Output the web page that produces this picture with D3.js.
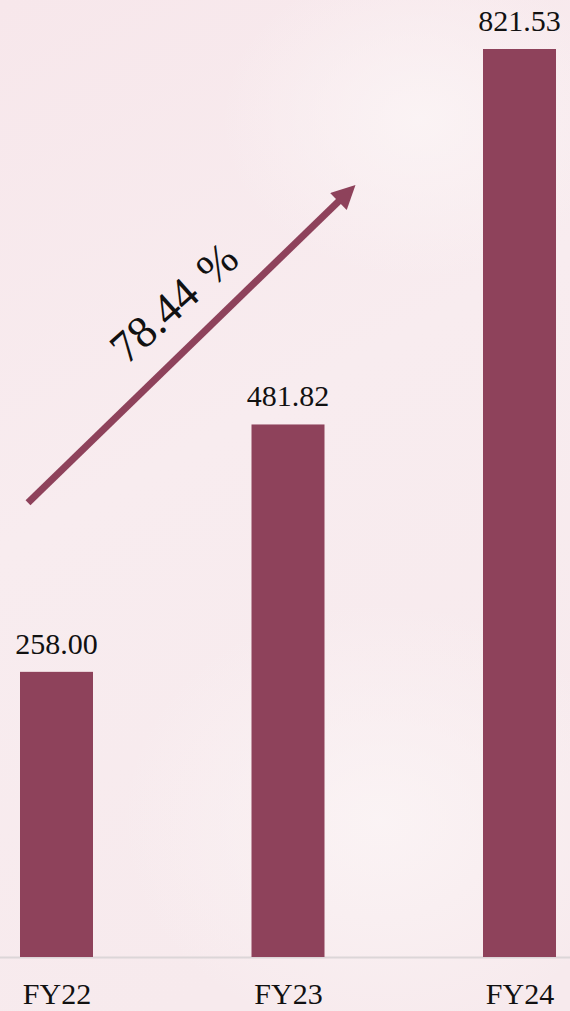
<!DOCTYPE html>
<meta charset="utf-8">
<script src="https://d3js.org/d3.v7.min.js"></script>
<style>
  body { margin: 0; }
  svg { display: block; }
  svg text { font-family: "Liberation Serif", "Times New Roman", serif; }
</style>
<div id="chart"></div>
<script>

    // chart values
    var years = ["FY22", "FY23", "FY24"];
    var values = [258.00, 481.82, 821.53];
    var growth = [78.44];

    var width = 570, height = 1011;
    var serif = '"Liberation Serif", "Times New Roman", serif';

    var svg = d3.select("#chart")
        .append("svg")
        .attr("width", width)
        .attr("height", height);

    // soft pink background
    var defs = svg.append("defs");
    var bg = defs.append("linearGradient").attr("id", "bg")
        .attr("x1", 0).attr("y1", 0).attr("x2", 0.3).attr("y2", 1);
    bg.append("stop").attr("offset", "0%").attr("stop-color", "#f7e7eb");
    bg.append("stop").attr("offset", "50%").attr("stop-color", "#f8ecef");
    bg.append("stop").attr("offset", "100%").attr("stop-color", "#f7eaed");
    var glow = defs.append("radialGradient").attr("id", "glow");
    glow.append("stop").attr("offset", "0%").attr("stop-color", "#fbf4f5").attr("stop-opacity", 0.9);
    glow.append("stop").attr("offset", "100%").attr("stop-color", "#fbf4f5").attr("stop-opacity", 0);

    svg.append("rect").attr("width", width).attr("height", height).attr("fill", "url(#bg)");
    svg.append("ellipse").attr("cx", 380).attr("cy", 820).attr("rx", 260).attr("ry", 220).attr("fill", "url(#glow)");
    svg.append("ellipse").attr("cx", 420).attr("cy", 120).attr("rx", 200).attr("ry", 160).attr("fill", "url(#glow)");

    // scales
    var x = d3.scalePoint()
        .domain(years)
        .range([56.5, 519.5]);
    var barWidth = 73;

    var y = d3.scaleLinear()
        .domain([0, 821.53])
        .range([957, 49]);

    // baseline
    svg.append("g")
        .attr("transform", "translate(0," + y(0) + ")")
        .call(d3.axisBottom(x).tickSize(0).tickPadding(26))
        .call(function (g) {
            g.select(".domain").attr("d", "M0,0.5H" + width).attr("stroke", "#dcd6d8").attr("stroke-width", 2);
            g.selectAll("text")
                .style("font-family", serif)
                .style("font-size", "30px")
                .attr("fill", "#111");
        });

    // bars
    svg.selectAll(".bar")
        .data(values)
        .enter()
        .append("rect")
        .attr("class", "bar")
        .attr("x", function (d, i) { return x(years[i]) - barWidth / 2; })
        .attr("y", function (d) { return y(d); })
        .attr("width", barWidth)
        .attr("height", function (d) { return y(0) - y(d); })
        .attr("fill", "#8e425b");

    // value labels
    svg.selectAll(".label")
        .data(values)
        .enter()
        .append("text")
        .attr("class", "label")
        .attr("x", function (d, i) { return x(years[i]); })
        .attr("y", function (d) { return y(d) - 18; })
        .attr("text-anchor", "middle")
        .style("font-family", serif)
        .style("font-size", "30px")
        .attr("fill", "#111")
        .text(function (d) { return d.toFixed(2); });

    // growth arrow
    var x0 = x(years[0]) - 28.5, y0 = y(411),
        x1 = x(years[1]) + 68, y1 = y(699);
    defs.append("marker").attr("id", "head")
        .attr("viewBox", "0 0 10 10").attr("refX", 5).attr("refY", 5)
        .attr("markerWidth", 3.6).attr("markerHeight", 3.4)
        .attr("markerUnits", "strokeWidth")
        .attr("orient", "auto")
        .append("path").attr("d", "M0,0L10,5L0,10z").attr("fill", "#8e425b");

    var ang = Math.atan2(y1 - y0, x1 - x0);
    svg.append("line")
        .attr("x1", x0).attr("y1", y0)
        .attr("x2", x1 - 12.6 * Math.cos(ang)).attr("y2", y1 - 12.6 * Math.sin(ang))
        .attr("stroke", "#8e425b")
        .attr("stroke-width", 7)
        .attr("marker-end", "url(#head)");

    svg.append("text")
        .attr("transform", "translate(184,314) rotate(-42)")
        .attr("text-anchor", "middle")
        .style("font-family", serif)
        .style("font-size", "45px")
        .style("word-spacing", "4px")
        .attr("fill", "#111")
        .text(growth[0].toFixed(2) + " %");

</script>
